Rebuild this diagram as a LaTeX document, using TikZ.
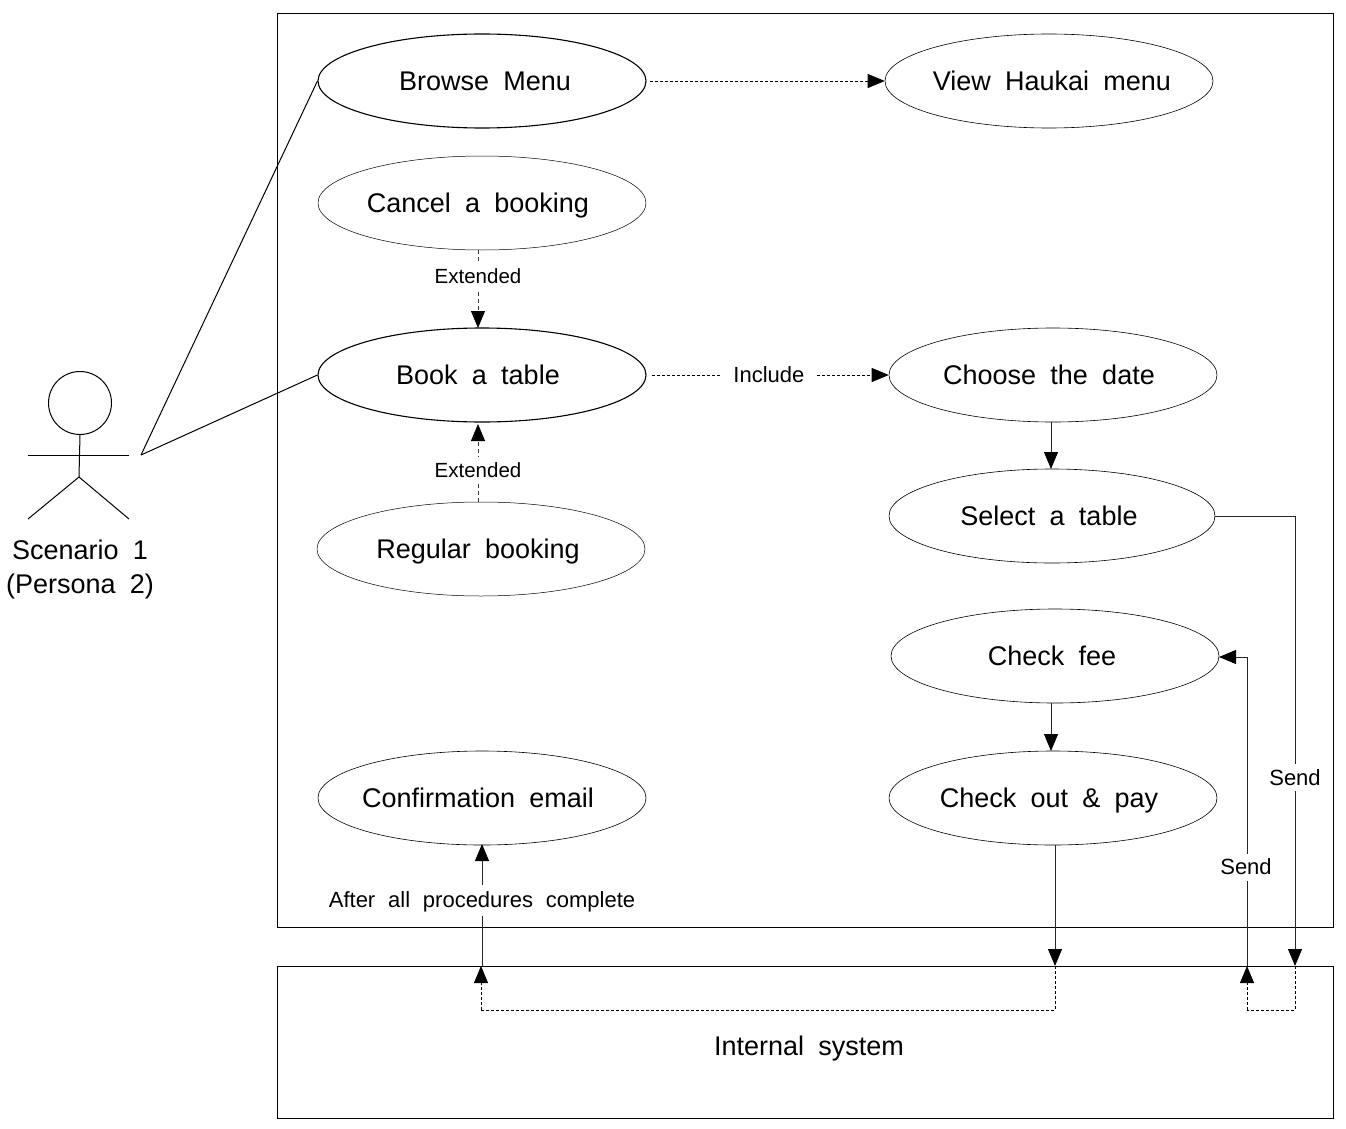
\documentclass[tikz,border=0pt]{standalone}
\usepackage{fontspec}
\setmainfont[WordSpace=1.9]{Liberation Sans}
\newfontfamily\widelabfont[WordSpace=2.1]{Liberation Sans}
\usetikzlibrary{arrows.meta,shapes.geometric,calc}
\tikzset{
  uc/.style={ellipse,draw=black,line width=#1,minimum width=328pt,minimum height=94pt,inner sep=-12pt,text height=19pt,text depth=0pt,font=\fontsize{27}{32}\selectfont},
  uc/.default=0.8pt,
  frame/.style={draw=black,line width=1pt,inner sep=0pt,anchor=north west},
  conn/.style={draw=black!85,line width=0.9pt,-{Triangle[length=17pt,width=14pt,color=black]}},
  dashconn/.style={draw=black,line width=0.8pt,dash pattern=on 3pt off 2pt,-{Triangle[length=17pt,width=14pt,color=black]}},
  sparseconn/.style={draw=black!80,line width=0.8pt,dash pattern=on 4pt off 3pt,-{Triangle[length=17pt,width=14pt,color=black]}},
  dashline/.style={draw=black,line width=0.8pt,dash pattern=on 3pt off 2pt},
  lab/.style={fill=white,inner xsep=2pt,inner ysep=6pt,text height=15pt,text depth=0pt,font=\fontsize{#1}{25}\selectfont},
  lab/.default=22,
  actorline/.style={draw=black,line width=1pt},
  actorlab/.style={font=\fontsize{27}{34}\selectfont,align=center}
}
\begin{document}
\begin{tikzpicture}[x=1pt,y=-1pt]
\useasboundingbox (0,0) rectangle (1346,1129);
% frames
\node[frame,minimum width=1056pt,minimum height=914pt] (sys) at (277,13) {};
\node[frame,minimum width=1056pt,minimum height=152pt] (int) at (277,966) {};
\node[font=\fontsize{27}{32}\selectfont,text height=19pt,text depth=0pt] (inttext) at (809,1046) {Internal system};
% use cases
\node[uc=1.1pt] (browse) at (482,81) {\hspace*{6pt}Browse Menu};
\node[uc=0.6pt] (view) at (1049,81) {\hspace*{6pt}View Haukai menu};
\node[uc=0.5pt] (cancel) at (482,203) {\hspace*{-8pt}Cancel a booking};
\node[uc=1.1pt] (book) at (482,375) {\hspace*{-8pt}Book a table};
\node[uc=0.5pt] (regular) at (481,549) {\hspace*{-6pt}Regular booking};
\node[uc=0.6pt] (choose) at (1053,375) {\hspace*{-8pt}Choose the date};
\node[uc=0.6pt,minimum width=326pt] (select) at (1052,516) {\hspace*{-6pt}Select a table};
\node[uc=0.6pt] (fee) at (1055,656) {\hspace*{-6pt}Check fee};
\node[uc=0.6pt] (pay) at (1053,798) {\hspace*{-8pt}Check out \& pay};
\node[uc=0.6pt] (email) at (482,798) {\hspace*{-8pt}Confirmation email};
% actor
\node[circle,draw=black,line width=1pt,minimum size=63pt,inner sep=0pt] (head) at (80,403) {};
\coordinate (hip) at (79,477);
\coordinate (armL) at (28,455);
\coordinate (armR) at (129,455);
\coordinate (legL) at (28,519);
\coordinate (legR) at (129,519);
\coordinate (actorhand) at (141,455);
\draw[actorline] (head.south) -- (hip);
\draw[actorline] (armL) -- (armR);
\draw[actorline] (legL) -- (hip) -- (legR);
\node[actorlab] (actorname) at (80,570) {Scenario 1\\(Persona 2)};
\draw[actorline] (actorhand) -- (browse.west);
\draw[actorline] (actorhand) -- (book.west);
% free ends
\coordinate (browseOut) at (650,81);
\coordinate (bookOut) at (652,375);
\coordinate (cancelOut) at (478,250);
\coordinate (bookTop) at (478,328);
\coordinate (regularOut) at (478,502);
\coordinate (bookBottom) at (478,424);
\coordinate (chooseOut) at (1051,422);
\coordinate (selectIn) at (1051,469);
\coordinate (feeOut) at (1051,703);
\coordinate (payIn) at (1051,751);
\coordinate (payOut) at (1055,845);
\coordinate (intA) at (1055,966);
\coordinate (intAlow) at (1055,1010);
\coordinate (intB) at (481,966);
\coordinate (intBlow) at (481,1010);
\coordinate (emailOutS) at (482,966);
\coordinate (emailIn) at (482,844);
\coordinate (intC) at (1295,966);
\coordinate (intClow) at (1295,1010);
\coordinate (intD) at (1247,966);
\coordinate (intDlow) at (1247,1010);
\coordinate (feeIn) at (1219,657);
% connectors
\draw[dashconn] (browseOut) -- (view.west);
\draw[sparseconn] (cancelOut) -- node[lab=20.5,pos=0.333] (ext1) {Extended} (bookTop);
\draw[sparseconn] (regularOut) -- node[lab=20.5,pos=0.41] (ext2) {Extended} (bookBottom);
\draw[dashconn] (bookOut) -- node[lab=22,inner xsep=13pt,pos=0.494] (incl) {Include} (choose.west);
\draw[conn] (chooseOut) -- (selectIn);
\draw[conn] (feeOut) -- (payIn);
\draw[conn] (select.east) -| node[lab=22,pos=0.791] (send1) {Send} (intC);
\draw[conn] (intD) |- node[lab=22,pos=0.16,xshift=-1pt] (send2) {Send} (feeIn);
\draw[conn] (payOut) -- (intA);
\draw[conn] (emailOutS) -- node[lab,pos=0.54,inner ysep=8pt] (after) {\widelabfont After all procedures complete} (emailIn);
\draw[dashline] (intA) -- (intAlow) -- (intBlow);
\draw[dashconn] (intBlow) -- (intB);
\draw[dashline] (intC) -- (intClow) -- (intDlow);
\draw[dashconn] (intDlow) -- (intD);
\end{tikzpicture}
\end{document}
